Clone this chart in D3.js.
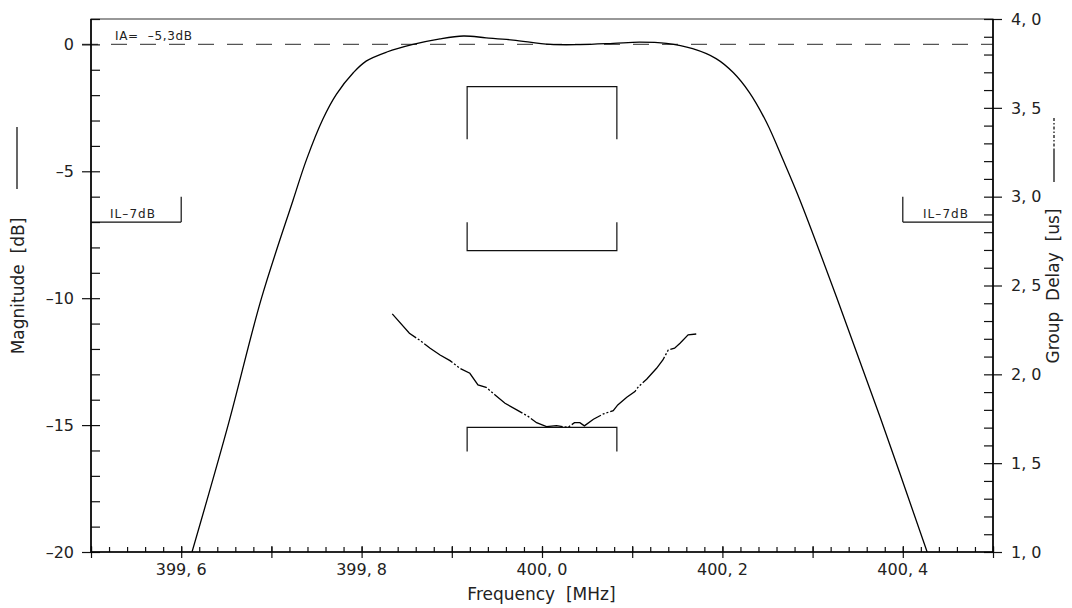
<!DOCTYPE html>
<html>
<head>
<meta charset="utf-8">
<script src="https://cdn.jsdelivr.net/npm/d3@7"></script>
<style>
  body { margin: 0; background: #fff; }
  text { font-family: "DejaVu Sans", sans-serif; fill: #222; }
</style>
</head>
<body>
<div class="chart"></div>
<script>
// magnitude response (MHz / dB)
const magFreq = [399.612, 399.652, 399.689, 399.724, 399.739, 399.757, 399.772, 399.791, 399.805, 399.828,
  399.857, 399.887, 399.913, 399.938, 399.968, 400.009, 400.042, 400.079, 400.108, 400.138,
  400.167, 400.193, 400.212, 400.230, 400.249, 400.267, 400.286, 400.328, 400.375, 400.427]
const magDb = [-20.0, -15.0, -10.0, -6.14, -4.53, -2.95, -1.97, -1.11, -0.66, -0.30,
  0.0, 0.22, 0.33, 0.26, 0.17, 0.0, -0.01, 0.04, 0.09, 0.04,
  -0.17, -0.56, -1.11, -1.90, -3.08, -4.53, -6.14, -10.1, -14.7, -20.0]

// group delay (MHz / us)
const gdFreq = [399.834, 399.853, 399.865, 399.876, 399.887, 399.898, 399.909, 399.920, 399.929, 399.938,
  399.948, 399.959, 399.972, 399.985, 399.994, 400.005, 400.016, 400.029, 400.036, 400.042,
  400.047, 400.057, 400.068, 400.079, 400.084, 400.094, 400.103, 400.107, 400.116, 400.127,
  400.134, 400.140, 400.147, 400.153, 400.162, 400.171]
const gdUs = [2.340, 2.231, 2.190, 2.147, 2.109, 2.077, 2.034, 2.006, 1.940, 1.927,
  1.884, 1.837, 1.800, 1.762, 1.728, 1.706, 1.711, 1.702, 1.728, 1.728,
  1.710, 1.747, 1.777, 1.796, 1.828, 1.871, 1.903, 1.931, 1.972, 2.034,
  2.081, 2.137, 2.147, 2.175, 2.222, 2.227]

const xLabelTicks = [399.6, 399.8, 400.0, 400.2, 400.4]
const magLabelTicks = [0, -5, -10, -15, -20]
const gdLabelTicks = [1.0, 1.5, 2.0, 2.5, 3.0, 3.5, 4.0]

// IL-7dB marks: frequency span of each, level and leg top in dB
const ilSpans = [[399.5, 399.6], [400.4, 400.5]]
const ilLevelDb = -7
const ilLegDb = -6
// center brackets (group delay axis): level and leg end in us
const bracketFreq = [399.917, 400.083]
const bracketLevels = [3.619, 2.696, 1.702]
const bracketLegs = [3.323, 2.856, 1.565]

const width = 1072
const height = 608
const margin = {top: 19, right: 79, bottom: 56, left: 91}

const svg = d3.select('.chart')
  .append('svg')
  .attr('width', width)
  .attr('height', height)

const x = d3.scaleLinear().domain([399.5, 400.5]).range([margin.left, width - margin.right])
const yMag = d3.scaleLinear().domain([-20, 1]).range([height - margin.bottom, margin.top])
const yGd = d3.scaleLinear().domain([1, 4]).range([height - margin.bottom, margin.top])

const x0 = margin.left, x1 = width - margin.right
const y0 = height - margin.bottom, y1 = margin.top

svg.append('defs').append('clipPath').attr('id', 'plot')
  .append('rect').attr('x', x0).attr('y', y1).attr('width', x1 - x0).attr('height', y0 - y1)

// frame
svg.append('rect')
  .attr('x', x0).attr('y', y1).attr('width', x1 - x0).attr('height', y0 - y1)
  .attr('fill', 'none').attr('stroke', '#333').attr('stroke-width', 1)

// 0 dB reference
svg.append('line')
  .attr('x1', x0 - 9).attr('x2', x1)
  .attr('y1', yMag(0)).attr('y2', yMag(0))
  .attr('stroke', '#555').attr('stroke-width', 1.2)
  .style('stroke-dasharray', '16,13')

function tickAxis(axis, values, size, transform) {
  const g = svg.append('g').attr('transform', transform)
    .call(axis.tickValues(values).tickSize(size).tickFormat(''))
  g.select('.domain').remove()
  g.selectAll('line').attr('stroke', '#111').attr('stroke-width', 1.2)
  g.selectAll('text').remove()
  return g
}

// bottom axis
const xMinor = d3.range(0, 51).map(i => 399.5 + i * 0.02)
const xMid = d3.range(0, 11).map(i => 399.5 + i * 0.1)
tickAxis(d3.axisBottom(x), xMinor, -5, `translate(0,${y0})`)
tickAxis(d3.axisBottom(x), xMid, 6, `translate(0,${y0})`)
tickAxis(d3.axisBottom(x), xMid, -6, `translate(0,${y0})`)

// left axis
const magMinor = d3.range(-20, 2, 1)
tickAxis(d3.axisLeft(yMag), magMinor, -9, `translate(${x0},0)`)
tickAxis(d3.axisLeft(yMag), magLabelTicks, 9, `translate(${x0},0)`)

// right axis
const gdMinor = d3.range(0, 31).map(i => 1 + i * 0.1)
tickAxis(d3.axisRight(yGd), gdMinor, -9, `translate(${x1},0)`)
tickAxis(d3.axisRight(yGd), gdLabelTicks, 9, `translate(${x1},0)`)

// axis lines
svg.append('path')
  .attr('d', `M${x0},${y1}V${y0}H${x1}V${y1}`)
  .attr('fill', 'none').attr('stroke', '#000').attr('stroke-width', 1.6)

const comma = d => d3.format('.1f')(d).replace('.', ', ')

svg.selectAll('.x-label')
  .data(xLabelTicks)
  .enter().append('text')
    .attr('class', 'x-label')
    .attr('x', d => x(d))
    .attr('y', 575)
    .attr('text-anchor', 'middle')
    .style('font-size', '16px')
    .text(comma)

svg.selectAll('.mag-label')
  .data(magLabelTicks)
  .enter().append('text')
    .attr('class', 'mag-label')
    .attr('x', 74)
    .attr('y', d => yMag(d))
    .attr('dy', '0.36em')
    .attr('text-anchor', 'end')
    .style('font-size', '16px')
    .text(d => d < 0 ? '\u2013' + Math.abs(d) : d)

svg.selectAll('.gd-label')
  .data(gdLabelTicks)
  .enter().append('text')
    .attr('class', 'gd-label')
    .attr('x', 1011)
    .attr('y', d => yGd(d))
    .attr('dy', '0.36em')
    .style('font-size', '16px')
    .text(comma)

// axis titles
svg.append('text')
  .attr('x', (x0 + x1) / 2 - 0.5)
  .attr('y', 600)
  .attr('text-anchor', 'middle')
  .style('font-size', '17px')
  .style('white-space', 'pre')
  .text('Frequency  [MHz]')

svg.append('text')
  .attr('transform', 'translate(24,286) rotate(-90)')
  .attr('text-anchor', 'middle')
  .style('font-size', '17px')
  .style('white-space', 'pre')
  .text('Magnitude  [dB]')

svg.append('text')
  .attr('transform', 'translate(1059,286) rotate(-90)')
  .attr('text-anchor', 'middle')
  .style('font-size', '17px')
  .style('white-space', 'pre')
  .text('Group  Delay  [us]')

// legend strokes next to titles
svg.append('line')
  .attr('x1', 17).attr('x2', 17).attr('y1', 127).attr('y2', 189)
  .attr('stroke', '#000').attr('stroke-width', 1.2)
svg.append('line')
  .attr('x1', 1054).attr('x2', 1054).attr('y1', 150).attr('y2', 182)
  .attr('stroke', '#000').attr('stroke-width', 1.2)
svg.append('line')
  .attr('x1', 1054).attr('x2', 1054).attr('y1', 118).attr('y2', 150)
  .attr('stroke', '#000').attr('stroke-width', 1.2)
  .style('stroke-dasharray', '3,2,1.5,2')

// IA text
svg.append('text')
  .attr('x', 115).attr('y', 40)
  .style('font-size', '12px')
  .style('white-space', 'pre')
  .attr('textLength', 77)
  .text('IA=  \u20135,3dB')

// IL-7dB marks
ilSpans.forEach((s, i) => {
  const xv = i === 0 ? x(s[1]) : x(s[0])
  svg.append('path')
    .attr('d', `M${x(s[0])},${yMag(ilLevelDb)}H${x(s[1])}M${xv},${yMag(ilLevelDb)}V${yMag(ilLegDb)}`)
    .attr('fill', 'none').attr('stroke', '#111').attr('stroke-width', 1.2)
  svg.append('text')
    .attr('x', i === 0 ? 110 : 923)
    .attr('y', 218)
    .style('font-size', '12px')
    .attr('textLength', 45)
    .text('IL\u20137dB')
})

// center brackets
bracketLevels.forEach((lv, i) => {
  const lg = bracketLegs[i]
  svg.append('path')
    .attr('d', `M${x(bracketFreq[0])},${yGd(lg)}V${yGd(lv)}H${x(bracketFreq[1])}V${yGd(lg)}`)
    .attr('fill', 'none').attr('stroke', '#111').attr('stroke-width', 1.2)
})

// curves
const magLine = d3.line()
  .x(d => x(d[0]))
  .y(d => yMag(d[1]))
  .curve(d3.curveCatmullRom.alpha(0.5))

svg.append('path')
  .datum(d3.zip(magFreq, magDb))
  .attr('clip-path', 'url(#plot)')
  .attr('d', magLine)
  .attr('fill', 'none').attr('stroke', '#000').attr('stroke-width', 1.3)

const gdLine = d3.line()
  .x(d => x(d[0]))
  .y(d => yGd(d[1]))

svg.append('path')
  .datum(d3.zip(gdFreq, gdUs))
  .attr('d', gdLine)
  .attr('fill', 'none').attr('stroke', '#000').attr('stroke-width', 1.3)
  .style('stroke-dasharray', '34,2,2,2,2,2')
</script>
</body>
</html>
